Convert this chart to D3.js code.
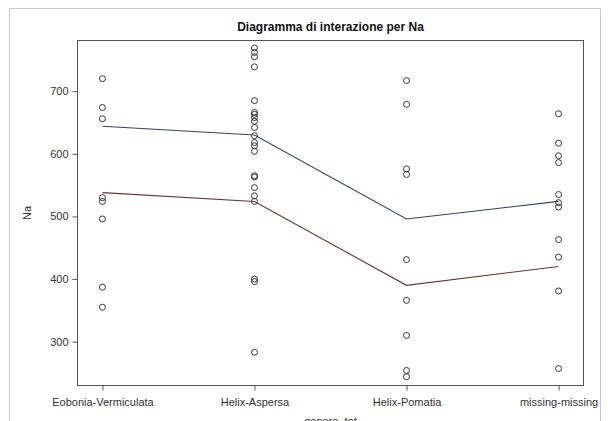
<!DOCTYPE html>
<html>
<head>
<meta charset="utf-8">
<script src="https://cdn.jsdelivr.net/npm/d3@7"></script>
<style>
  html, body { margin: 0; padding: 0; background: #fff; }
  svg { display: block; font-family: "Liberation Sans", Arial, sans-serif; }
</style>
</head>
<body>
<svg id="chart" width="608" height="421"></svg>
<script>
// Categories of genere_tot
const categories = ["Eobonia-Vermiculata", "Helix-Aspersa", "Helix-Pomatia", "missing-missing"];

// Observed Na values per category
const obsEobonia = [720, 674, 656, 530, 524, 496, 387, 355];
const obsAspersa = [769, 762, 755, 739, 685, 666, 663, 658, 652, 642, 629, 618, 613, 604,
                    565, 563, 546, 533, 524, 400, 396, 283];
const obsPomatia = [717, 679, 576, 567, 431, 366, 310, 254, 244];
const obsMissing = [664, 617, 597, 586, 535, 522, 515, 463, 435, 381, 257];

// Estimated profile lines (two levels of the second factor)
const lineBlue = [644, 630, 496, 524];
const lineRed  = [538, 524, 390, 420];

const yTicks = [300, 400, 500, 600, 700];

const svg = d3.select("#chart");
const frame = { left: 77.5, right: 583.5, top: 40.5, bottom: 385.5 };

// outer light border of the output panel
svg.append("path")
  .attr("d", "M9.5,421 V8.5 H600.5 V421")
  .attr("fill", "none")
  .attr("stroke", "#c8c8c8")
  .attr("stroke-width", 1);

const x = d3.scalePoint()
  .domain(categories)
  .range([frame.left, frame.right])
  .padding(0.164);

const y = d3.scaleLinear()
  .domain([230, 781])
  .range([frame.bottom, frame.top]);

// plot frame
svg.append("rect")
  .attr("x", frame.left).attr("y", frame.top)
  .attr("width", frame.right - frame.left)
  .attr("height", frame.bottom - frame.top)
  .attr("fill", "none")
  .attr("stroke", "#555")
  .attr("stroke-width", 1);

// Y axis
const yAxis = svg.append("g")
  .attr("transform", `translate(${frame.left},0)`)
  .call(d3.axisLeft(y).tickValues(yTicks).tickSize(5).tickSizeOuter(0).tickPadding(4));
yAxis.select(".domain").remove();
yAxis.selectAll("line").attr("stroke", "#555");
yAxis.selectAll("text").attr("fill", "#333").style("font-size", "11px")
  .style("font-family", "'Liberation Sans', Arial, sans-serif");

// X axis
const xAxis = svg.append("g")
  .attr("transform", `translate(0,${frame.bottom})`)
  .call(d3.axisBottom(x).tickSize(5).tickSizeOuter(0).tickPadding(8));
xAxis.select(".domain").remove();
xAxis.selectAll("line").attr("stroke", "#555");
xAxis.selectAll("text").attr("fill", "#333").style("font-size", "11px")
  .style("font-family", "'Liberation Sans', Arial, sans-serif");

// axis titles
svg.append("text")
  .attr("transform", `translate(31,${(frame.top + frame.bottom) / 2}) rotate(-90)`)
  .attr("text-anchor", "middle")
  .attr("fill", "#333")
  .style("font-size", "11px")
  .text("Na");

// x title sits partly below the bottom edge of the panel
svg.append("text")
  .attr("x", (frame.left + frame.right) / 2)
  .attr("y", 425)
  .attr("text-anchor", "middle")
  .attr("fill", "#333")
  .style("font-size", "11px")
  .text("genere_tot");

// title
svg.append("text")
  .attr("x", (frame.left + frame.right) / 2)
  .attr("y", 31)
  .attr("text-anchor", "middle")
  .attr("fill", "#111")
  .style("font-size", "12px")
  .style("font-weight", "bold")
  .text("Diagramma di interazione per Na");

// profile lines
const line = d3.line()
  .x((d, i) => x(categories[i]))
  .y(d => y(d));

svg.append("path")
  .datum(lineBlue)
  .attr("d", line)
  .attr("fill", "none")
  .attr("stroke", "#34406e")
  .attr("stroke-width", 1.1);

svg.append("path")
  .datum(lineRed)
  .attr("d", line)
  .attr("fill", "none")
  .attr("stroke", "#6e3326")
  .attr("stroke-width", 1.1);

// observations
const observations = [obsEobonia, obsAspersa, obsPomatia, obsMissing];
const pts = [];
observations.forEach((vals, i) => vals.forEach(v => pts.push({ cat: categories[i], v })));

svg.append("g").selectAll("circle")
  .data(pts)
  .join("circle")
  .attr("cx", d => x(d.cat))
  .attr("cy", d => y(d.v))
  .attr("r", 3)
  .attr("fill", "none")
  .attr("stroke", "#3c3333")
  .attr("stroke-width", 1);
</script>
</body>
</html>
